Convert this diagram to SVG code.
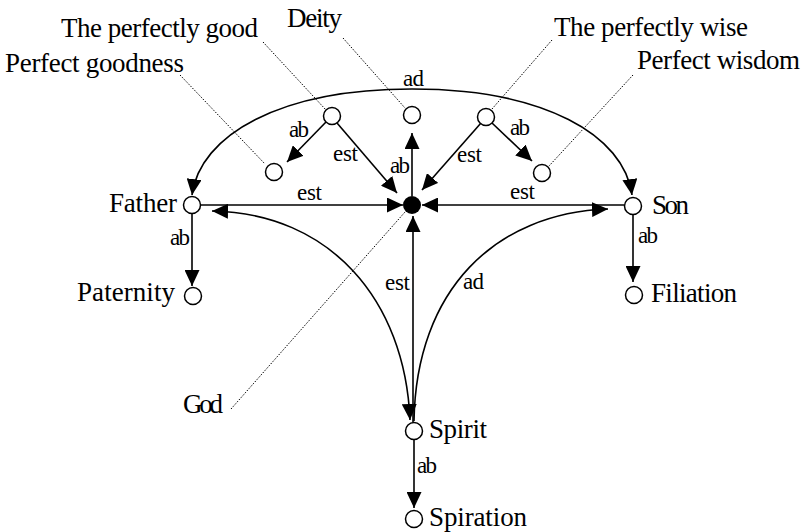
<svg xmlns="http://www.w3.org/2000/svg" width="805" height="532" viewBox="0 0 805 532">
<style>
.n{fill:#fff;stroke:#000;stroke-width:1.5}
.c{fill:none;stroke:#000;stroke-width:1.6}
.d{fill:none;stroke:#000;stroke-width:1;stroke-dasharray:1.5 1.5}
.t{font-family:"Liberation Serif","Times New Roman",serif;font-size:27px;fill:#000}
.s{font-family:"Liberation Serif","Times New Roman",serif;font-size:23px;fill:#000}
</style>
<defs>
<marker id="a" markerUnits="userSpaceOnUse" markerWidth="16" markerHeight="15" viewBox="0 0 16 15" refX="16" refY="7.5" orient="auto-start-reverse">
<path d="M0,0 L16,7.5 L0,15 z" fill="#000"/>
</marker>
</defs>
<g id="connectors">
<path class="c" d="M326,122 L287,162" marker-end="url(#a)"/>
<path class="c" d="M337,123 L397,193" marker-end="url(#a)"/>
<path class="c" d="M412,196 L412,133" marker-end="url(#a)"/>
<path class="c" d="M481,123 L422,190" marker-end="url(#a)"/>
<path class="c" d="M492,123 L532,161" marker-end="url(#a)"/>
<path class="c" d="M200,205 L403,205" marker-end="url(#a)"/>
<path class="c" d="M624,205 L422,205" marker-end="url(#a)"/>
<path class="c" d="M413,422 L413,216" marker-end="url(#a)"/>
<path class="c" d="M192,195 C200,135 280,89 412,89 C544,89 624,135 632,195" marker-start="url(#a)" marker-end="url(#a)"/>
<path class="c" d="M410,420 C405,300 330,213 212,211" marker-start="url(#a)" marker-end="url(#a)"/>
<path class="c" d="M414,421 C416,290 495,213 608,209" marker-end="url(#a)"/>
<path class="c" d="M192,213 L192,286" marker-end="url(#a)"/>
<path class="c" d="M633,214 L633,282" marker-end="url(#a)"/>
<path class="c" d="M414,439 L414,508" marker-end="url(#a)"/>
<path class="d" d="M263,42 L326,110"/>
<path class="d" d="M180,75 L265,164"/>
<path class="d" d="M343,38 L405,108"/>
<path class="d" d="M552,40 L492,109"/>
<path class="d" d="M633,75 L549,166"/>
<path class="d" d="M231,409 L405,212"/>
<text class="s" x="403" y="86" textLength="21">ad</text>
<text class="s" x="289" y="137" textLength="20">ab</text>
<text class="s" x="333" y="161" textLength="25">est</text>
<text class="s" x="390" y="173" textLength="20">ab</text>
<text class="s" x="457" y="162" textLength="25">est</text>
<text class="s" x="510" y="135" textLength="20">ab</text>
<text class="s" x="297" y="200" textLength="25">est</text>
<text class="s" x="510" y="199" textLength="25">est</text>
<text class="s" x="170" y="245" textLength="20">ab</text>
<text class="s" x="638" y="243" textLength="20">ab</text>
<text class="s" x="385" y="290" textLength="25">est</text>
<text class="s" x="463" y="289" textLength="21">ad</text>
<text class="s" x="417" y="473" textLength="20">ab</text>
</g>
<g id="perfectly-good"><circle class="n" cx="332" cy="116" r="8.5"/><text class="t" x="61" y="37" textLength="197">The perfectly good</text></g>
<g id="perfect-goodness"><circle class="n" cx="274" cy="172" r="8.5"/><text class="t" x="5" y="72" textLength="179">Perfect goodness</text></g>
<g id="deity"><circle class="n" cx="412" cy="115" r="8.5"/><text class="t" x="287" y="27" textLength="55">Deity</text></g>
<g id="perfectly-wise"><circle class="n" cx="486" cy="117" r="8.5"/><text class="t" x="554" y="36" textLength="194">The perfectly wise</text></g>
<g id="perfect-wisdom"><circle class="n" cx="542" cy="173" r="8.5"/><text class="t" x="637" y="69" textLength="163">Perfect wisdom</text></g>
<g id="god"><circle cx="412" cy="205" r="9" fill="#000"/><text class="t" x="183" y="413" textLength="40">God</text></g>
<g id="father"><circle class="n" cx="192" cy="205" r="8.5"/><text class="t" x="109" y="212" textLength="68">Father</text></g>
<g id="paternity"><circle class="n" cx="193" cy="296" r="8.5"/><text class="t" x="77" y="301" textLength="98">Paternity</text></g>
<g id="son"><circle class="n" cx="633" cy="206" r="8.5"/><text class="t" x="652" y="214" textLength="37">Son</text></g>
<g id="filiation"><circle class="n" cx="634" cy="295" r="8.5"/><text class="t" x="651" y="302" textLength="86">Filiation</text></g>
<g id="spirit"><circle class="n" cx="414" cy="431" r="8.5"/><text class="t" x="429" y="438" textLength="58">Spirit</text></g>
<g id="spiration"><circle class="n" cx="414" cy="519" r="8.5"/><text class="t" x="429" y="526" textLength="98">Spiration</text></g>
</svg>
